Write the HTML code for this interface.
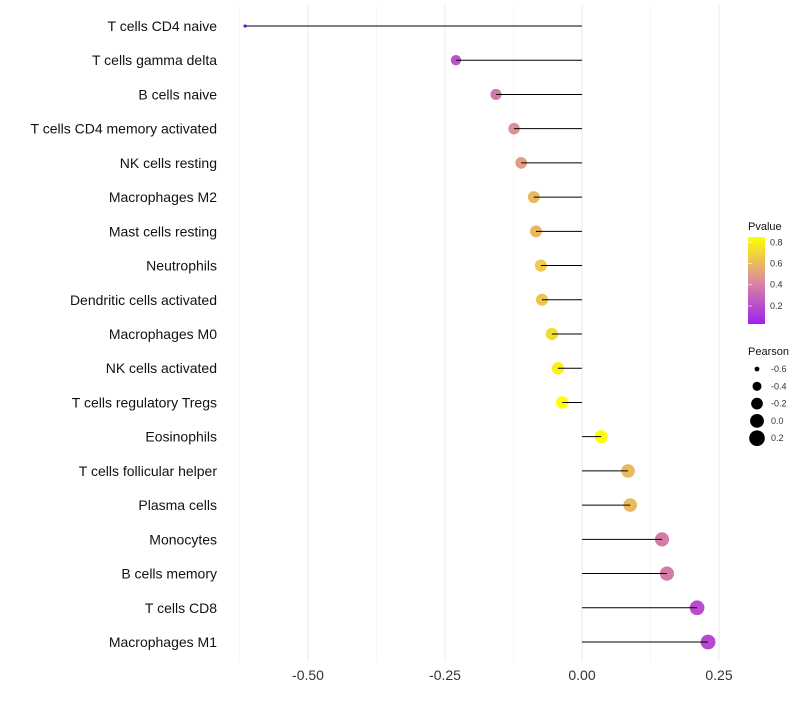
<!DOCTYPE html>
<html><head><meta charset="utf-8"><style>
body{margin:0;background:#fff;font-family:"Liberation Sans",sans-serif}
</style></head><body>
<svg id="c" width="800" height="700" xmlns="http://www.w3.org/2000/svg">
<defs><linearGradient id="g" x1="0" y1="1" x2="0" y2="0">
<stop offset="0" stop-color="#a020f0"/><stop offset="0.5" stop-color="#dc8c9c"/><stop offset="1" stop-color="#ffff00"/></linearGradient></defs>
</svg>
<script>
const categories=["T cells CD4 naive","T cells gamma delta","B cells naive","T cells CD4 memory activated","NK cells resting","Macrophages M2","Mast cells resting","Neutrophils","Dendritic cells activated","Macrophages M0","NK cells activated","T cells regulatory  Tregs ","Eosinophils","T cells follicular helper","Plasma cells","Monocytes","B cells memory","T cells CD8","Macrophages M1"];
const pearson=[-0.615,-0.23,-0.157,-0.124,-0.111,-0.088,-0.084,-0.075,-0.073,-0.055,-0.044,-0.036,0.035,0.084,0.088,0.146,0.155,0.21,0.23];
const pvalues=[0.03,0.22,0.36,0.45,0.5,0.6,0.6,0.66,0.64,0.72,0.8,0.85,0.88,0.6,0.6,0.38,0.38,0.2,0.18];
const xTicks=[-0.5,-0.25,0,0.25];
const xTickLabels=["-0.50","-0.25","0.00","0.25"];
const pTicks=[0.2,0.4,0.6,0.8];
const sizeTicks=[-0.6,-0.4,-0.2,0.0,0.2];
const svg=document.getElementById('c');const NS="http://www.w3.org/2000/svg";
function X(v){return 582+v*548;}
function Y(i){return 26+i*(616/18);}
function R(v){return Math.sqrt(Math.max(1.5,2.5+62*(v+0.62)));}
function col(p){const t=Math.max(0,Math.min(1,(p-0.03)/0.82));
 const a=[160,32,240],m=[220,140,156],b=[255,255,0];let c;
 if(t<0.5){const u=t/0.5;c=a.map((x,k)=>x+(m[k]-x)*u);}else{const u=(t-0.5)/0.5;c=m.map((x,k)=>x+(b[k]-x)*u);}
 return `rgb(${c.map(Math.round).join(',')})`;}
function el(t,a,txt){const e=document.createElementNS(NS,t);for(const k in a)e.setAttribute(k,a[k]);if(txt!==undefined)e.textContent=txt;svg.appendChild(e);return e;}
for(const v of [-0.625,-0.375,-0.125,0.125]){const e=el('line',{x1:X(v),x2:X(v),y1:5,y2:662,stroke:'#f2f2f2','stroke-width':0.6});

}
xTicks.forEach((v,i)=>{const e=el('line',{x1:X(v),x2:X(v),y1:5,y2:662,stroke:'#ebebeb','stroke-width':1});


const t=el('text',{x:X(v),y:680,'text-anchor':'middle','font-size':14,fill:'#333'},xTickLabels[i]);

});
categories.forEach((c,i)=>{const y=Y(i);
const d=el('circle',{cx:X(pearson[i]),cy:y,r:R(pearson[i]),fill:col(pvalues[i])});


const l=el('line',{x1:X(0),x2:X(pearson[i]),y1:y,y2:y,stroke:'#000','stroke-width':1});


const t=el('text',{x:217,y:y+5,'text-anchor':'end','font-size':14,fill:'#111','xml:space':'preserve'},c);

});
let e=el('text',{x:748,y:230,'font-size':11,fill:'#111'},'Pvalue');


e=el('rect',{x:748,y:237,width:17,height:87,fill:'url(#g)'});


pTicks.forEach(p=>{const y=324-(p-0.03)/0.82*87;
const t=el('text',{x:770,y:y+3,'font-size':9,fill:'#333'},p.toFixed(1));


const tk=el('line',{x1:748,x2:752,y1:y,y2:y,stroke:'#fff','stroke-width':0.6});
});
e=el('text',{x:748,y:355,'font-size':11,fill:'#111'},'Pearson');


sizeTicks.forEach((v,i)=>{const y=369+i*17.3;
const c=el('circle',{cx:757,cy:y,r:R(v)+0.5,fill:'#000'});


const t=el('text',{x:771,y:y+3,'font-size':9,fill:'#333'},v.toFixed(1));

});
</script>
</body></html>
